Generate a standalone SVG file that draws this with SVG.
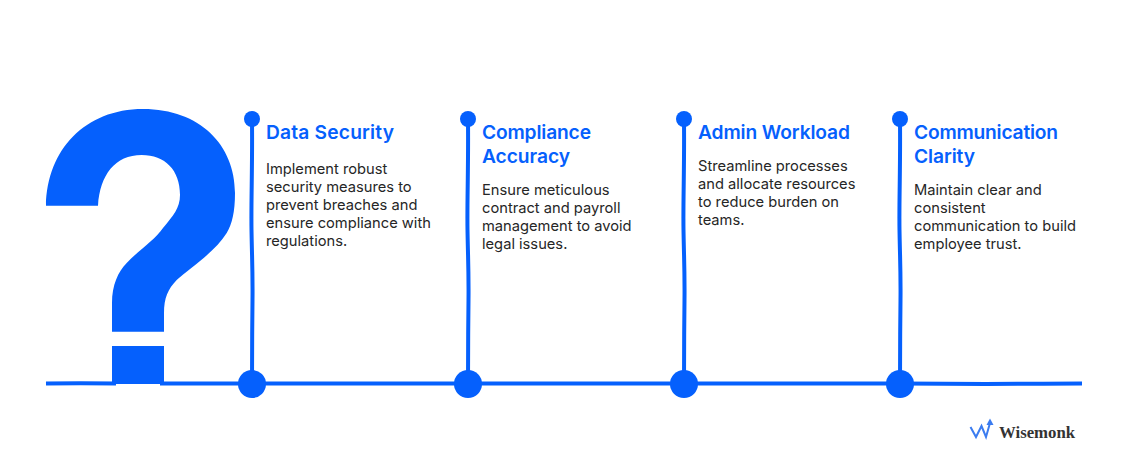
<svg xmlns="http://www.w3.org/2000/svg" width="1126" height="457" viewBox="0 0 1126 457">
<style>
.h{font:600 19.2px Inter,"Noto Sans",sans-serif;fill:#0560fd}
.b{font:400 14.7px Inter,"Noto Sans",sans-serif;fill:#262626}
.c{fill:#0560fd}
.l{fill:none;stroke:#0560fd;stroke-width:4}
</style>
<rect width="1126" height="457" fill="#fff"/>
<g id="connectors">
<path class="l" d="M46 383.600Q80 383 116 383.600M160 383.600C300 384.400 420 383 520 383.600S800 383 900 383.600S1000 383.800 1082 383.600"/>
<path class="l" d="M252 119C252.500 170 251 200 251.500 230S252.800 270 252.500 300S252 350 252 384"/>
<path class="l" d="M468 119C468.500 170 467 200 467.500 230S468.800 270 468.500 300S468 350 468 384"/>
<path class="l" d="M684 119C684.500 170 683 200 683.500 230S684.800 270 684.500 300S684 350 684 384"/>
<path class="l" d="M900 119C900.500 170 899 200 899.500 230S900.800 270 900.500 300S900 350 900 384"/>
</g>
<g id="question-mark">
<path class="c" d="M46 205.700C47 150 85 109 143 109C200 109 235 145 235 193C235 212 232 224 226.700 233C215 252 190 268 176.700 280C168 289 164 298 164 313V331.700H112V303C112 285 118 272 126.700 263C140 249 155 240 163 228C173 216 180 208 180 195C180 170 165 155 141.700 155C115 155 100 175 98 205.700Z"/>
<path class="c" d="M112 346H164V384H112Z"/>
</g>
<g id="node-1">
<circle class="c" cx="252" cy="119" r="8"/><circle class="c" cx="252" cy="384" r="14"/>
<text class="h" x="266" y="139" textLength="128">Data Security</text>
<text class="b" x="266" y="174">Implement robust</text>
<text class="b" x="266" y="192">security measures to</text>
<text class="b" x="266" y="210">prevent breaches and</text>
<text class="b" x="266" y="228">ensure compliance with</text>
<text class="b" x="266" y="246">regulations.</text>
</g>
<g id="node-2">
<circle class="c" cx="468" cy="119" r="8"/><circle class="c" cx="468" cy="384" r="14"/>
<text class="h" x="482" y="139" textLength="109">Compliance</text>
<text class="h" x="482" y="163" textLength="88">Accuracy</text>
<text class="b" x="482" y="195">Ensure meticulous</text>
<text class="b" x="482" y="213">contract and payroll</text>
<text class="b" x="482" y="231">management to avoid</text>
<text class="b" x="482" y="249">legal issues.</text>
</g>
<g id="node-3">
<circle class="c" cx="684" cy="119" r="8"/><circle class="c" cx="684" cy="384" r="14"/>
<text class="h" x="698" y="139" textLength="152">Admin Workload</text>
<text class="b" x="698" y="171">Streamline processes</text>
<text class="b" x="698" y="189">and allocate resources</text>
<text class="b" x="698" y="207">to reduce burden on</text>
<text class="b" x="698" y="225">teams.</text>
</g>
<g id="node-4">
<circle class="c" cx="900" cy="119" r="8"/><circle class="c" cx="900" cy="384" r="14"/>
<text class="h" x="914" y="139" textLength="144">Communication</text>
<text class="h" x="914" y="163" textLength="61">Clarity</text>
<text class="b" x="914" y="195">Maintain clear and</text>
<text class="b" x="914" y="213">consistent</text>
<text class="b" x="914" y="231">communication to build</text>
<text class="b" x="914" y="249">employee trust.</text>
</g>
<g id="logo">
<path d="M970.500 427L976 437L981.500 426L986 437L990 423" fill="none" stroke="#3b7cf0" stroke-width="2"/>
<path d="M986.500 425L990 418.500L993.500 425Z" fill="#3b7cf0"/>
<text x="999" y="438" font-family="'Liberation Serif',serif" font-weight="700" font-size="16.800" fill="#333">Wisemonk</text>
</g>
</svg>
